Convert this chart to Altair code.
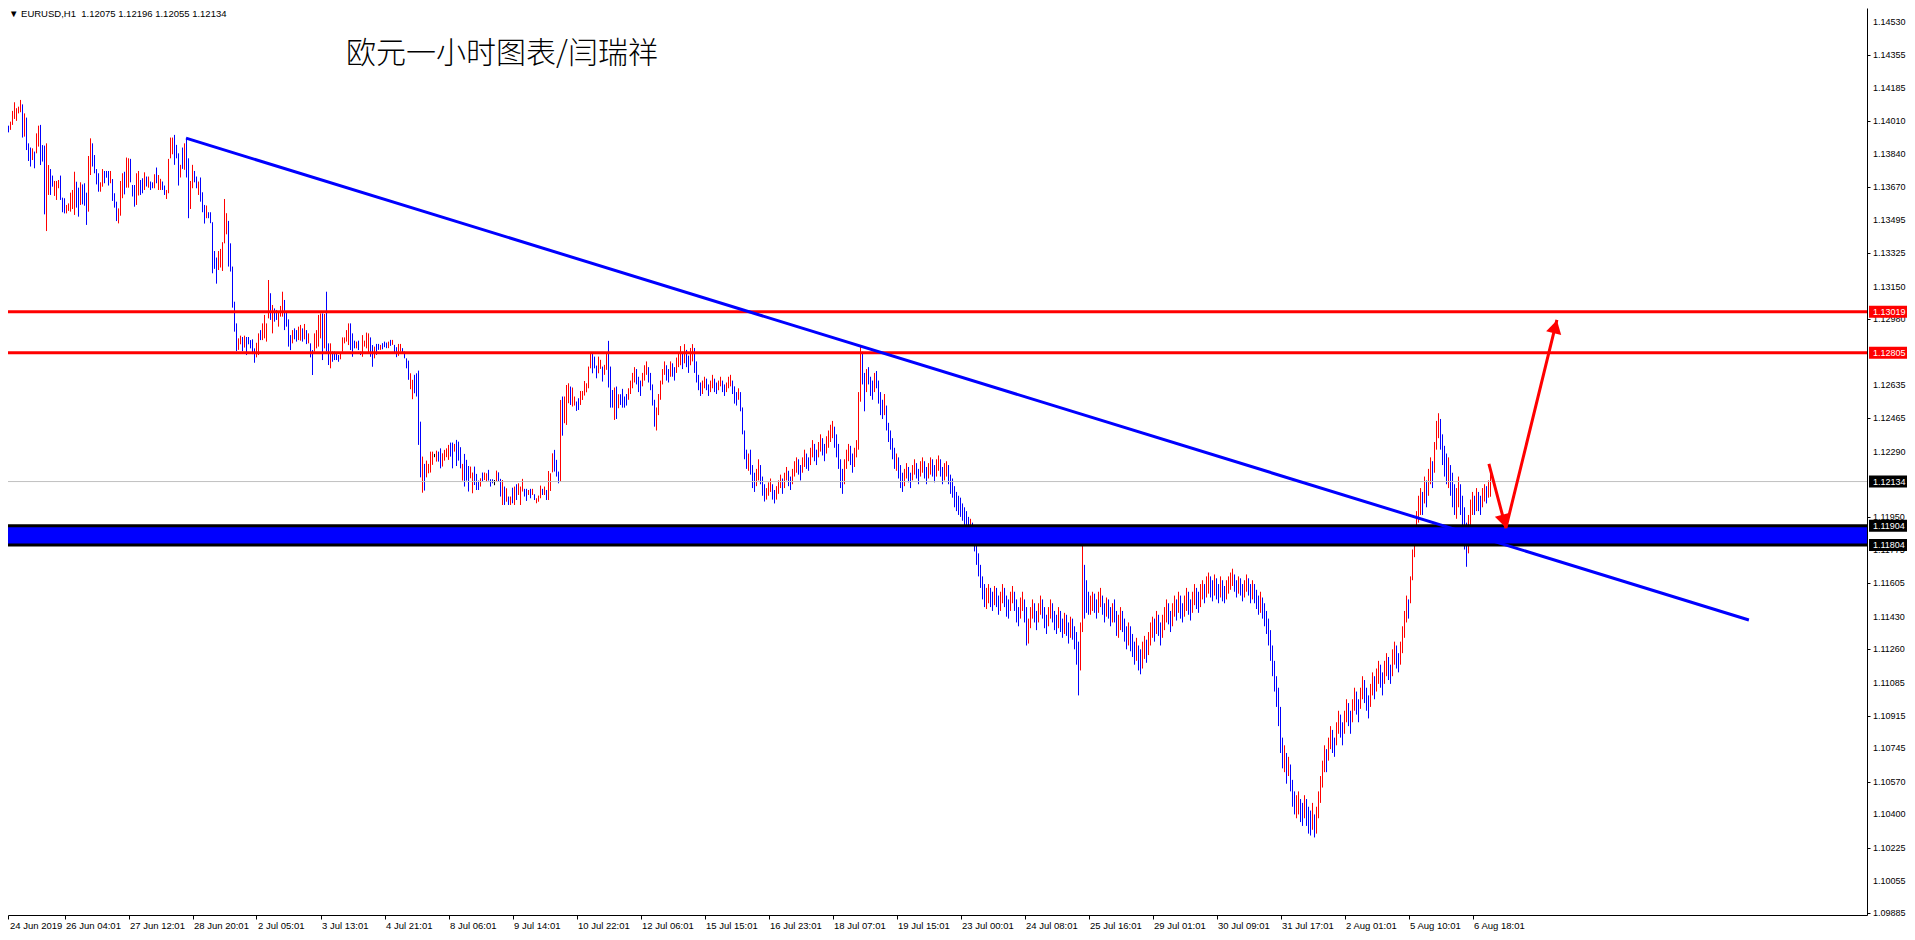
import altair as alt
import pandas as pd

# ---- hourly EURUSD bars (high / low / direction: u=up red, d=down blue, n=doji black)
HIGH = [
1.14044,1.14000,1.13992,1.14000,1.13988,1.14009,1.14065,1.14110,1.14079,1.14087,
1.14122,1.14099,1.14052,1.14030,1.13896,1.13874,1.13870,1.13853,1.13948,1.13988,
1.13992,1.13887,1.13884,1.13896,1.13783,1.13762,1.13728,1.13700,1.13700,1.13705,
1.13728,1.13613,1.13610,1.13575,1.13583,1.13639,1.13653,1.13748,1.13696,1.13665,
1.13693,1.13682,1.13688,1.13639,1.13830,1.13922,1.13896,1.13835,1.13762,1.13740,
1.13693,1.13762,1.13752,1.13752,1.13752,1.13752,1.13710,1.13636,1.13592,1.13557,
1.13700,1.13740,1.13748,
1.13822,1.13818,1.13815,1.13679,1.13679,1.13740,1.13752,1.13705,1.13714,1.13745,
1.13723,1.13723,1.13697,1.13693,1.13735,1.13770,1.13731,1.13711,1.13697,1.13676,
1.13653,1.13815,1.13926,1.13926,1.13940,1.13888,1.13844,1.13784,1.13874,1.13896,
1.13923,1.13818,1.13700,1.13784,1.13752,1.13723,1.13697,1.13718,1.13641,1.13575,
1.13572,1.13537,1.13537,1.13485,1.13335,1.13301,1.13335,1.13346,1.13381,1.13606,
1.13532,1.13492,1.13375,1.13254,1.13071,1.12958,1.12880,1.12894,1.12887,1.12894,
1.12887,1.12887,
1.12871,1.12875,1.12828,1.12857,1.12906,1.12923,1.12958,1.13002,1.12958,1.13184,
1.13115,1.13054,1.13036,1.13028,1.13019,1.13049,1.13123,1.13080,1.13019,1.12979,
1.12897,1.12923,1.12932,1.12923,1.12941,1.12950,1.12932,1.12955,1.12923,1.12906,
1.12854,1.12819,1.12906,1.12923,1.13002,1.13010,1.13010,1.13007,1.13123,1.12854,
1.12854,1.12811,1.12811,1.12802,1.12793,1.12805,1.12885,1.12885,1.12923,1.12958,
1.12958,1.12906,1.12868,1.12863,1.12868,1.12811,1.12897,1.12868,1.12910,1.12906,
1.12885,1.12845,1.12837,
1.12851,1.12851,1.12846,1.12855,1.12863,1.12858,1.12863,1.12872,1.12872,1.12846,
1.12834,1.12851,1.12851,1.12829,1.12811,1.12776,1.12764,1.12698,1.12664,1.12690,
1.12698,1.12712,1.12446,1.12264,1.12226,1.12243,1.12226,1.12290,1.12290,1.12278,
1.12295,1.12290,1.12307,1.12281,1.12299,1.12307,1.12325,1.12337,1.12337,1.12330,
1.12351,1.12342,1.12313,1.12226,1.12278,1.12247,1.12215,1.12212,1.12181,1.12212,
1.12174,1.12139,1.12151,1.12181,1.12181,1.12177,1.12195,1.12146,1.12146,1.12142,
1.12191,1.12182,
1.12148,1.12142,1.12108,1.12099,1.12056,1.12056,1.12102,1.12108,1.12120,1.12125,
1.12108,1.12148,1.12096,1.12096,1.12090,1.12096,1.12096,1.12068,1.12047,1.12061,
1.12113,1.12096,1.12108,1.12090,1.12189,1.12177,1.12281,1.12299,1.12247,1.12186,
1.12559,1.12577,1.12577,1.12637,1.12646,1.12629,1.12624,1.12577,1.12551,1.12568,
1.12606,1.12606,1.12658,1.12646,1.12733,1.12802,1.12802,1.12785,1.12738,1.12785,
1.12768,1.12733,1.12742,1.12802,1.12867,1.12733,1.12611,1.12624,1.12629,1.12589,
1.12589,1.12617,1.12577,
# 313-
1.12590,1.12620,1.12660,1.12700,1.12730,1.12720,1.12680,1.12660,1.12700,1.12740,
1.12760,1.12730,1.12700,1.12640,1.12560,1.12520,1.12590,1.12660,1.12720,1.12760,
1.12740,1.12720,1.12760,1.12750,1.12730,1.12780,1.12800,1.12840,1.12810,1.12850,
1.12820,1.12790,1.12830,1.12850,1.12830,1.12760,
1.12690,1.12650,1.12660,1.12680,1.12670,1.12640,1.12660,1.12690,1.12670,1.12650,
1.12660,1.12680,1.12660,1.12640,1.12650,1.12680,1.12690,1.12660,1.12630,1.12600,
1.12620,1.12600,
1.12520,1.12400,1.12300,1.12280,1.12300,1.12220,1.12180,1.12200,1.12250,
1.12220,1.12160,1.12120,1.12100,1.12130,1.12150,1.12120,1.12090,1.12110,1.12140,
1.12170,1.12150,1.12180,1.12210,1.12190,1.12160,1.12200,1.12240,
1.12260,1.12250,1.12220,1.12260,1.12300,1.12280,1.12260,1.12310,1.12350,1.12330,
1.12300,1.12340,1.12380,1.12360,1.12330,1.12370,1.12400,1.12430,1.12450,1.12420,
1.12380,1.12330,1.12250,1.12200,
1.12250,1.12300,1.12330,1.12320,1.12280,1.12310,1.12350,
1.12600,1.12840,1.12810,1.12700,
1.12720,1.12730,1.12680,1.12660,1.12700,1.12710,1.12660,1.12600,1.12560,1.12590,1.12530,
1.12440,1.12400,1.12360,1.12310,1.12280,1.12260,
1.12220,1.12180,1.12200,1.12230,1.12210,1.12180,1.12220,1.12250,1.12230,1.12200,
1.12240,1.12260,1.12240,1.12210,1.12230,1.12260,1.12250,1.12220,1.12250,1.12270,
1.12250,1.12210,1.12230,1.12240,
1.12220,1.12170,1.12150,1.12110,1.12080,1.12060,1.12050,1.12020,1.12000,1.11980,
1.11950,1.11940,
1.11920,1.11880,1.11820,1.11760,1.11700,1.11640,1.11600,1.11580,1.11600,1.11580,1.11560,
1.11590,1.11580,1.11540,1.11560,1.11600,1.11580,1.11540,1.11520,1.11560,1.11590,
1.11560,1.11520,1.11480,1.11530,1.11560,1.11520,1.11480,
1.11420,1.11480,1.11520,1.11500,1.11460,1.11500,1.11540,1.11520,1.11480,1.11440,
1.11480,1.11520,1.11500,1.11460,1.11440,1.11480,1.11460,1.11420,
1.11450,1.11440,1.11400,1.11430,1.11420,1.11380,1.11350,1.11300,1.11400,1.11880,1.11700,
1.11620,1.11560,1.11540,1.11560,1.11550,1.11520,1.11560,1.11580,1.11540,1.11500,1.11530,
1.11520,1.11480,1.11500,1.11520,1.11460,1.11440,1.11480,1.11460,1.11420,1.11380,
1.11400,1.11380,
1.11340,1.11300,1.11320,1.11280,1.11260,1.11300,1.11330,1.11310,1.11350,1.11400,
1.11430,1.11420,
1.11460,1.11440,1.11400,1.11440,1.11480,1.11520,1.11500,1.11460,1.11500,
1.11540,1.11520,1.11560,1.11540,1.11500,1.11540,1.11580,1.11560,1.11520,1.11560,
1.11600,1.11580,1.11560,1.11600,1.11620,1.11600,1.11640,1.11660,1.11640,
1.11620,1.11650,1.11630,1.11600,1.11640,1.11620,1.11590,1.11620,1.11640,1.11660,
1.11680,1.11650,1.11620,1.11640,1.11630,1.11600,1.11620,1.11650,1.11630,1.11600,
1.11620,1.11600,1.11570,1.11540,1.11560,
1.11530,1.11500,1.11460,1.11420,1.11360,1.11280,1.11200,1.11120,1.11060,1.10960,1.10800,
1.10760,1.10720,1.10700,1.10660,1.10580,1.10520,1.10500,1.10520,1.10480,1.10460,
1.10500,1.10480,1.10440,1.10420,1.10460,1.10400,1.10440,1.10520,1.10600,
1.10680,1.10760,1.10740,1.10800,1.10860,1.10840,1.10800,1.10880,1.10940,1.10920,
1.10880,1.10940,1.11000,1.10980,1.10940,
1.11000,1.11060,1.11040,1.11000,1.11060,1.11120,1.11100,1.11060,1.11020,1.11080,
1.11140,1.11120,1.11160,1.11200,1.11180,1.11140,1.11200,1.11240,1.11220,1.11180,
1.11260,1.11300,1.11280,1.11240,1.11300,
1.11380,1.11460,1.11540,1.11520,1.11640,1.11780,1.11900,1.11980,1.12060,1.12100,
1.12080,1.12160,1.12140,1.12200,1.12260,1.12240,1.12340,1.12450,1.12490,1.12460,
1.12380,1.12320,
1.12280,1.12260,1.12220,1.12180,1.12120,1.12100,1.12160,1.12120,1.12060,1.12000,
1.11920,1.11960,1.12040,1.12080,
1.12060,1.12100,1.12080,1.12060,1.12100,1.12120,1.12110,1.12140,1.12196,
]
LOW = [
1.13905,1.13943,1.13957,1.13966,1.13953,1.13966,1.13992,1.14023,1.14013,1.14052,
1.14058,1.13926,1.13931,1.13861,1.13804,1.13775,1.13809,1.13766,1.13844,1.13879,
1.13783,1.13801,1.13526,1.13439,1.13627,1.13627,1.13670,1.13622,1.13601,1.13662,
1.13601,1.13537,1.13531,1.13531,1.13544,1.13540,1.13554,1.13523,1.13561,1.13514,
1.13575,1.13578,1.13571,1.13471,1.13540,1.13731,1.13775,1.13740,1.13682,1.13644,
1.13644,1.13670,1.13688,1.13717,1.13676,1.13688,1.13596,1.13561,1.13491,1.13479,
1.13519,1.13610,1.13630,
1.13665,1.13665,1.13693,1.13619,1.13566,1.13575,1.13624,1.13627,1.13636,1.13653,
1.13671,1.13665,1.13653,1.13662,1.13662,1.13688,1.13653,1.13653,1.13653,1.13627,
1.13606,1.13636,1.13818,1.13839,1.13784,1.13818,1.13676,1.13718,1.13763,1.13758,
1.13718,1.13506,1.13554,1.13662,1.13693,1.13662,1.13627,1.13592,1.13537,1.13478,
1.13506,1.13506,1.13480,1.13219,1.13242,1.13165,1.13236,1.13249,1.13231,1.13375,
1.13422,1.13254,1.13228,1.13040,1.12915,1.12814,1.12820,1.12849,1.12814,1.12832,
1.12793,1.12849,
1.12828,1.12798,1.12753,1.12781,1.12793,1.12871,1.12871,1.12880,1.12863,1.12984,
1.12976,1.12906,1.12967,1.12976,1.12941,1.12993,1.12993,1.12923,1.12941,1.12837,
1.12819,1.12854,1.12875,1.12863,1.12871,1.12868,1.12863,1.12875,1.12850,1.12854,
1.12781,1.12689,1.12811,1.12828,1.12837,1.12880,1.12767,1.12828,1.12811,1.12741,
1.12724,1.12758,1.12767,1.12767,1.12758,1.12771,1.12811,1.12854,1.12863,1.12845,
1.12819,1.12784,1.12828,1.12828,1.12819,1.12793,1.12784,1.12837,1.12828,1.12802,
1.12784,1.12732,1.12776,
1.12794,1.12820,1.12820,1.12823,1.12834,1.12829,1.12829,1.12841,1.12846,1.12806,
1.12782,1.12789,1.12811,1.12803,1.12776,1.12724,1.12664,1.12615,1.12563,1.12594,
1.12577,1.12325,1.12156,1.12076,1.12087,1.12156,1.12177,1.12181,1.12221,1.12261,
1.12238,1.12238,1.12203,1.12212,1.12243,1.12261,1.12247,1.12264,1.12203,1.12290,
1.12215,1.12243,1.12203,1.12139,1.12108,1.12139,1.12082,1.12151,1.12073,1.12116,
1.12090,1.12090,1.12108,1.12134,1.12142,1.12134,1.12139,1.12108,1.12125,1.12115,
1.12134,1.12134,
1.12056,1.12012,1.12012,1.12029,1.12012,1.12012,1.12021,1.12012,1.12038,1.12064,
1.12012,1.12082,1.12056,1.12033,1.12064,1.12047,1.12064,1.12038,1.12021,1.12029,
1.12047,1.12064,1.12064,1.12038,1.12038,1.12085,1.12182,1.12186,1.12160,1.12125,
1.12134,1.12373,1.12438,1.12429,1.12542,1.12533,1.12525,1.12530,1.12502,1.12507,
1.12533,1.12559,1.12582,1.12599,1.12620,1.12724,1.12698,1.12724,1.12672,1.12698,
1.12721,1.12655,1.12690,1.12716,1.12624,1.12519,1.12519,1.12455,1.12460,1.12516,
1.12533,1.12519,1.12519,
# 313-
1.12530,1.12560,1.12590,1.12620,1.12650,1.12640,1.12600,1.12580,1.12630,1.12660,
1.12690,1.12650,1.12610,1.12530,1.12420,1.12400,1.12480,1.12560,1.12640,1.12690,
1.12660,1.12650,1.12680,1.12680,1.12660,1.12700,1.12730,1.12740,1.12720,1.12750,
1.12730,1.12700,1.12740,1.12760,1.12700,1.12650,
1.12610,1.12580,1.12590,1.12620,1.12610,1.12580,1.12600,1.12620,1.12600,1.12590,
1.12610,1.12630,1.12600,1.12580,1.12600,1.12620,1.12630,1.12590,1.12540,1.12530,
1.12560,1.12500,
1.12380,1.12250,1.12200,1.12190,1.12170,1.12100,1.12080,1.12110,1.12140,
1.12120,1.12060,1.12030,1.12040,1.12060,1.12080,1.12040,1.12020,1.12040,1.12070,
1.12100,1.12070,1.12100,1.12140,1.12110,1.12090,1.12120,1.12160,
1.12180,1.12170,1.12140,1.12180,1.12210,1.12200,1.12190,1.12220,1.12260,1.12240,
1.12220,1.12260,1.12290,1.12270,1.12240,1.12280,1.12310,1.12340,1.12360,1.12310,
1.12260,1.12200,1.12100,1.12070,
1.12120,1.12200,1.12240,1.12220,1.12180,1.12210,1.12260,
1.12300,1.12550,1.12640,1.12500,
1.12600,1.12640,1.12580,1.12560,1.12600,1.12620,1.12540,1.12480,1.12460,1.12480,1.12400,
1.12340,1.12300,1.12250,1.12200,1.12190,1.12150,
1.12100,1.12080,1.12110,1.12150,1.12130,1.12100,1.12140,1.12170,1.12150,1.12120,
1.12160,1.12180,1.12150,1.12120,1.12150,1.12170,1.12160,1.12130,1.12160,1.12190,
1.12160,1.12120,1.12140,1.12160,
1.12120,1.12070,1.12050,1.12000,1.11980,1.11960,1.11950,1.11930,1.11900,1.11880,
1.11850,1.11840,
1.11820,1.11770,1.11700,1.11640,1.11580,1.11520,1.11480,1.11470,1.11500,1.11480,1.11460,
1.11490,1.11480,1.11440,1.11460,1.11500,1.11480,1.11430,1.11420,1.11460,1.11500,
1.11460,1.11400,1.11380,1.11420,1.11460,1.11400,1.11280,
1.11290,1.11370,1.11420,1.11400,1.11360,1.11400,1.11440,1.11420,1.11370,1.11340,
1.11380,1.11420,1.11400,1.11360,1.11340,1.11370,1.11350,1.11320,
1.11340,1.11330,1.11290,1.11320,1.11310,1.11260,1.11180,1.11020,1.11150,1.11350,1.11420,
1.11450,1.11440,1.11440,1.11460,1.11450,1.11420,1.11450,1.11480,1.11440,1.11400,1.11430,
1.11420,1.11380,1.11400,1.11400,1.11330,1.11320,1.11360,1.11350,1.11300,1.11260,
1.11280,1.11250,
1.11220,1.11180,1.11200,1.11150,1.11130,1.11160,1.11210,1.11190,1.11230,1.11280,
1.11320,1.11300,
1.11340,1.11330,1.11280,1.11320,1.11360,1.11400,1.11390,1.11350,1.11380,
1.11430,1.11410,1.11450,1.11420,1.11400,1.11430,1.11460,1.11440,1.11410,1.11450,
1.11490,1.11470,1.11450,1.11480,1.11520,1.11500,1.11530,1.11550,1.11530,
1.11510,1.11540,1.11520,1.11500,1.11530,1.11510,1.11500,1.11520,1.11550,1.11570,
1.11590,1.11560,1.11530,1.11550,1.11540,1.11510,1.11530,1.11560,1.11540,1.11500,
1.11520,1.11500,1.11470,1.11440,1.11450,
1.11420,1.11380,1.11340,1.11280,1.11200,1.11120,1.11040,1.10960,1.10860,1.10720,1.10640,
1.10620,1.10560,1.10600,1.10520,1.10440,1.10400,1.10380,1.10400,1.10360,1.10340,
1.10380,1.10340,1.10300,1.10290,1.10320,1.10280,1.10300,1.10380,1.10460,
1.10540,1.10620,1.10620,1.10680,1.10740,1.10720,1.10700,1.10760,1.10820,1.10800,
1.10760,1.10820,1.10880,1.10860,1.10820,
1.10880,1.10940,1.10920,1.10880,1.10950,1.11000,1.10980,1.10940,1.10900,1.10960,
1.11020,1.11000,1.11040,1.11080,1.11060,1.11020,1.11080,1.11120,1.11100,1.11080,
1.11120,1.11180,1.11160,1.11140,1.11180,
1.11240,1.11320,1.11400,1.11420,1.11500,1.11620,1.11740,1.11840,1.11920,1.11960,
1.11960,1.12020,1.12000,1.12060,1.12120,1.12100,1.12180,1.12300,1.12360,1.12300,
1.12220,1.12160,
1.12120,1.12100,1.12060,1.12000,1.11960,1.11940,1.12000,1.11960,1.11900,1.11780,
1.11690,1.11760,1.11880,1.11960,
1.11960,1.11980,1.11980,1.11960,1.12000,1.12030,1.12020,1.12050,1.12055,
]
DIR = ("ududduuuuu" "ududdduduu" "ddduudduuu" "ddduuuuudd" "uddduudddd" "uudddudddu" "uud"
       "uuddduuddu" "dudduduudd" "uuuudddudu" "dduudduddd" "uddddduuuu" "uddddduudu" "dd"
       "ddduuduuuu" "dudduuuddd" "dudduududu" "dduuuududd" "udddduuuuu" "dddudduuuu" "ddu"
       "ddudddudud" "duudddduud" "ddduduuuun" "udduuuuddu" "ddduddduud" "dduduudddn" "ud"
       "dududududu" "uuddududuu" "ududuuuddd" "uduuuduudd" "uuuuuudddu" "uduudddudu" "ddd"
       "duuuuddd" "uuudddd" "uuuuu" "ddudd" "uuudu" "dduudd"
       "dduudduudd" "uudduuuddd" "ud" "ddduddduu" "ddduuudduu" "uduudduu"
       "udduudduud" "duudduuuud" "dddd" "uuudduu" "uudd" "udddudddd" "ud" "ddddud"
       "dduudduudduudduudduudduu" "dddddddddddu" "ddddddduudd" "udduuddduu" "ddduudd"
       "uuudduuddd" "uudddudd" "uddudddduud" "dduudduuddu" "ddudduudddud" "ddudduuduuud"
       "udduuuddu" "ududduuddu" "udduuduud" "duddudduuu" "uddudduudd" "udddu"
       "ddddddddddd" "ududdduudd" "uddduduuu" "uuduudduud" "duudd"
       "uudduudddu" "uduudduudd" "uuddu" "uuuduuuuuu" "duduuduuuddd" "duddduudddduuu"
       "dudduuduu")

X_LABELS = ["24 Jun 2019", "26 Jun 04:01", "27 Jun 12:01", "28 Jun 20:01", "2 Jul 05:01",
            "3 Jul 13:01", "4 Jul 21:01", "8 Jul 06:01", "9 Jul 14:01", "10 Jul 22:01",
            "12 Jul 06:01", "15 Jul 15:01", "16 Jul 23:01", "18 Jul 07:01", "19 Jul 15:01",
            "23 Jul 00:01", "24 Jul 08:01", "25 Jul 16:01", "29 Jul 01:01", "30 Jul 09:01",
            "31 Jul 17:01", "2 Aug 01:01", "5 Aug 10:01", "6 Aug 18:01"]
X_TICKS = [4, 32, 64, 96, 128, 160, 192, 224, 256, 288, 320, 352, 384, 416, 448, 480,
           512, 544, 576, 608, 640, 672, 704, 736]
Y_TICKS = [1.14530, 1.14355, 1.14185, 1.14010, 1.13840, 1.13670, 1.13495, 1.13325, 1.13150,
           1.12980, 1.12635, 1.12465, 1.12290, 1.11950, 1.11775, 1.11605, 1.11430, 1.11260,
           1.11085, 1.10915, 1.10745, 1.10570, 1.10400, 1.10225, 1.10055, 1.09885]
Y_LABELS = ["1.14530", "1.14355", "1.14185", "1.14010", "1.13840", "1.13670", "1.13495",
            "1.13325", "1.13150", "1.12980", "1.12635", "1.12465", "1.12290", "1.11950",
            "1.11775", "1.11605", "1.11430", "1.11260", "1.11085", "1.10915", "1.10745",
            "1.10570", "1.10400", "1.10225", "1.10055", "1.09885"]

RED_LEVELS = [1.13019, 1.12805]
ZONE = [1.11904, 1.11804]
LAST_PRICE = [1.12134]

TREND_X = [92.75, 874.2]
TREND_Y = [1.13923, 1.11413]
ARROW_X = [744.2, 752.7, 778.2]
ARROW_Y = [1.12226, 1.11892, 1.12976]
HEAD_X = [751.8, 777.4]
HEAD_Y = [1.11927, 1.12941]
HEAD_ANGLE = [165, 14]

TAG_PRICES = [1.13019, 1.12805, 1.12134, 1.11904, 1.11804]
TAG_TEXT = ["1.13019", "1.12805", "1.12134", "1.11904", "1.11804"]
TAG_COLORS = ["#ff0000", "#ff0000", "#000000", "#000000", "#000000"]

HEADER = "\u25bc EURUSD,H1 \u00a01.12075 1.12196 1.12055 1.12134"
TITLE = "欧元一小时图表/闫瑞祥"

# ---- layout
W, H = 1859, 907
FONT = "Liberation Sans, Arial, sans-serif"
xs = alt.Scale(domain=[3.75, 933.25], nice=False, zero=False)
ys = alt.Scale(domain=[1.09876, 1.14601], nice=False, zero=False)

label_expr = ("[" + ",".join("'" + s + "'" for s in X_LABELS) + "][indexof(["
              + ",".join(str(v) for v in X_TICKS) + "], datum.value)]")

x_axis = alt.Axis(values=X_TICKS, labelExpr=label_expr, orient="bottom", grid=False, title=None,
                  domainColor="black", tickColor="black", tickSize=4, labelAlign="left",
                  labelBaseline="top", labelPadding=1, labelOffset=1, labelFont=FONT,
                  labelFontSize=9.5, labelColor="black", labelFlush=False, labelOverlap=False,
                  labelBound=False)
y_axis = alt.Axis(values=Y_TICKS, labels=False, orient="right", grid=False, title=None,
                  domainColor="black", tickColor="black", tickSize=3)

n = min(len(HIGH), len(LOW), len(DIR))
bars = pd.DataFrame({"i": list(range(n)), "high": HIGH[:n], "low": LOW[:n], "dir": list(DIR[:n])})

bar_layer = alt.Chart(bars).mark_rule(strokeWidth=1).encode(
    x=alt.X("i:Q", scale=xs, axis=x_axis),
    y=alt.Y("low:Q", scale=ys, axis=y_axis),
    y2="high:Q",
    color=alt.Color("dir:N", scale=alt.Scale(domain=["u", "d", "n"],
                                             range=["#ff0000", "#0000ff", "#000000"]), legend=None),
)


def yq(field):
    return alt.Y(field, scale=ys, title=None)


def xq(field):
    return alt.X(field, scale=xs, title=None)


ylab_layer = alt.Chart(pd.DataFrame({"p": Y_TICKS, "t": Y_LABELS})).mark_text(
    align="left", baseline="middle", font=FONT, fontSize=9, color="black").encode(
    y=yq("p:Q"), x=alt.value(W + 6), text="t:N")

last_layer = alt.Chart(pd.DataFrame({"p": LAST_PRICE})).mark_rule(color="#c0c0c0", strokeWidth=1).encode(
    y=yq("p:Q"), x=alt.value(0), x2=alt.value(W))

zone_layer = alt.Chart(pd.DataFrame({"top": [ZONE[0]], "bot": [ZONE[1]]})).mark_rect(color="#0000ff").encode(
    y=yq("top:Q"), y2="bot:Q", x=alt.value(0), x2=alt.value(W))

zone_lines = alt.Chart(pd.DataFrame({"p": ZONE})).mark_rule(color="#000000", strokeWidth=3).encode(
    y=yq("p:Q"), x=alt.value(0), x2=alt.value(W))

red_lines = alt.Chart(pd.DataFrame({"p": RED_LEVELS})).mark_rule(color="#ff0000", strokeWidth=3).encode(
    y=yq("p:Q"), x=alt.value(0), x2=alt.value(W))

trend_layer = alt.Chart(pd.DataFrame({"x": TREND_X, "y": TREND_Y})).mark_line(
    color="#0000ff", strokeWidth=3).encode(x=xq("x:Q"), y=yq("y:Q"))

arrow_layer = alt.Chart(pd.DataFrame({"x": ARROW_X, "y": ARROW_Y})).mark_line(
    color="#ff0000", strokeWidth=3).encode(x=xq("x:Q"), y=yq("y:Q"))

head_layer = alt.Chart(pd.DataFrame({"x": HEAD_X, "y": HEAD_Y, "a": HEAD_ANGLE})).mark_point(
    shape="triangle-up", filled=True, color="#ff0000", opacity=1, size=240).encode(
    x=xq("x:Q"), y=yq("y:Q"), angle=alt.Angle("a:Q", scale=None))

tags = pd.DataFrame({"p": TAG_PRICES, "t": TAG_TEXT, "c": TAG_COLORS})
tag_box = alt.Chart(tags).mark_tick(orient="horizontal", size=44, thickness=12, opacity=1).encode(
    y=yq("p:Q"), x=alt.value(W + 24), color=alt.Color("c:N", scale=None))
tag_text = alt.Chart(tags).mark_text(align="left", baseline="middle", color="white",
                                     font=FONT, fontSize=9).encode(
    y=yq("p:Q"), x=alt.value(W + 6), text="t:N")

header_layer = alt.Chart(pd.DataFrame({"t": [HEADER]})).mark_text(
    align="left", baseline="middle", font=FONT, fontSize=9.5, color="black").encode(
    x=alt.value(1), y=alt.value(6), text="t:N")

title_layer = alt.Chart(pd.DataFrame({"t": [TITLE]})).mark_text(
    align="center", baseline="middle", font="Noto Sans CJK SC", fontSize=30,
    fontWeight=300, color="black").encode(
    x=alt.value(494), y=alt.value(46), text="t:N")

chart = alt.layer(
    bar_layer, ylab_layer, last_layer, zone_layer, zone_lines, red_lines, trend_layer,
    arrow_layer, head_layer, tag_box, tag_text, header_layer, title_layer
).properties(
    width=W, height=H,
    autosize=alt.AutoSizeParams(type="none"),
    padding={"left": 0, "top": 0, "right": 40, "bottom": 17},
    background="white",
).configure_view(stroke=None)

chart.save("out.html", embed_options={"renderer": "svg", "actions": False})
